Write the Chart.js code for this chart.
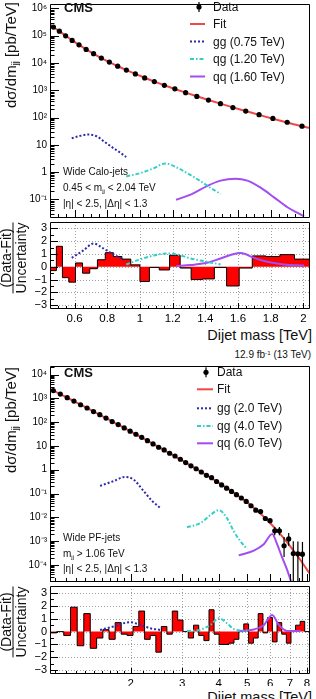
<!DOCTYPE html>
<html>
<head>
<meta charset="utf-8">
<script src="https://cdn.jsdelivr.net/npm/chart.js@4.4.1/dist/chart.umd.min.js"></script>
<style>
  html, body { margin: 0; padding: 0; background: #fff; }
  body { width: 316px; height: 699px; position: relative; overflow: hidden; font-family: "Liberation Sans", Arial, sans-serif; color: #111; }
  canvas { position: absolute; left: 0; }
  .t { position: absolute; white-space: nowrap; line-height: 1; transform: translateY(-50%); }
  .r { transform: translate(-100%, -50%); }
  .rot { position: absolute; white-space: nowrap; line-height: 1; transform: translate(-50%, -50%) rotate(-90deg); }
  .frac { text-align: center; }
  .den { border-top: 1px solid #111; }
  sub { font-size: 62%; vertical-align: -0.3em; line-height: 0; }
  sup { font-size: 62%; vertical-align: 0.55em; line-height: 0; }
</style>
</head>
<body>
<canvas id="topMain" width="316" height="222" style="top:0"></canvas>
<canvas id="topRatio" width="316" height="100" style="top:222px"></canvas>
<canvas id="botMain" width="316" height="224" style="top:362px"></canvas>
<canvas id="botRatio" width="316" height="100" style="top:586px"></canvas>

<div class="t" style="left:64px;top:7px;font-size:13px;font-weight:bold">CMS</div>
<div class="t" style="left:213px;top:7px;font-size:12px">Data</div>
<div class="t" style="left:213px;top:24px;font-size:12px">Fit</div>
<div class="t" style="left:213px;top:41.5px;font-size:12px">gg (0.75 TeV)</div>
<div class="t" style="left:213px;top:59px;font-size:12px">qg (1.20 TeV)</div>
<div class="t" style="left:213px;top:76.5px;font-size:12px">qq (1.60 TeV)</div>
<div class="t" style="left:63px;top:172px;font-size:10px">Wide Calo-jets</div>
<div class="t" style="left:63px;top:188px;font-size:10px">0.45 &lt; m<sub>jj</sub> &lt; 2.04 TeV</div>
<div class="t" style="left:63px;top:203.5px;font-size:10px">|η| &lt; 2.5, |Δη| &lt; 1.3</div>
<div class="rot" style="left:10px;top:55px;font-size:15px">dσ/dm<sub>jj</sub> [pb/TeV]</div>
<div class="rot" style="left:13px;top:258px;font-size:14px"><div class="frac"><div>(Data-Fit)</div><div class="den">Uncertainty</div></div></div>
<div class="t r" style="left:312px;top:335px;font-size:14.5px">Dijet mass [TeV]</div>

<div class="t r" style="left:311px;top:355px;font-size:10px">12.9 fb<sup>-1</sup> (13 TeV)</div>
<div class="t" style="left:64px;top:372px;font-size:13px;font-weight:bold">CMS</div>
<div class="t" style="left:217px;top:372.3px;font-size:12px">Data</div>
<div class="t" style="left:217px;top:389.3px;font-size:12px">Fit</div>
<div class="t" style="left:217px;top:408.3px;font-size:12px">gg (2.0 TeV)</div>
<div class="t" style="left:217px;top:426px;font-size:12px">qg (4.0 TeV)</div>
<div class="t" style="left:217px;top:443.3px;font-size:12px">qq (6.0 TeV)</div>
<div class="t" style="left:63px;top:537.5px;font-size:10px">Wide PF-jets</div>
<div class="t" style="left:63px;top:553.5px;font-size:10px">m<sub>jj</sub> &gt; 1.06 TeV</div>
<div class="t" style="left:63px;top:568.5px;font-size:10px">|η| &lt; 2.5, |Δη| &lt; 1.3</div>
<div class="rot" style="left:10px;top:420px;font-size:15px">dσ/dm<sub>jj</sub> [pb/TeV]</div>
<div class="rot" style="left:13px;top:622px;font-size:14px"><div class="frac"><div>(Data-Fit)</div><div class="den">Uncertainty</div></div></div>
<div class="t r" style="left:312px;top:697px;font-size:14.5px">Dijet mass [TeV]</div>

<script>
// ---- upper figure: wide calo-jets, 0.45 - 2.04 TeV ----
var topEdges = [0.453,0.489,0.526,0.565,0.606,0.649,0.693,0.740,0.788,0.838,0.890,0.944,1.000,1.058,1.118,1.181,1.246,1.313,1.383,1.455,1.530,1.607,1.687,1.770,1.856,1.945,2.037];
var topData = [2.07e5,1.47e5,9.9e4,6.7e4,4.64e4,3.15e4,2.19e4,1.52e4,1.08e4,7.65e3,5.53e3,3.99e3,2.85e3,2.09e3,1.52e3,1.13e3,821,595,437,324,232,174,128,92.9,67.5,48.6];
var topPull = [-0.3,1.6,-0.85,-1.2,0.3,-0.5,-0.15,0.55,1.1,0.8,0.6,0.15,-1.15,-0.05,-0.25,0.9,-0.1,-1.0,-0.95,-0.05,-1.5,-0.1,0.85,0.8,0.95,0.6];
var topFitMass = [0.45,0.471,0.5075,0.5455,0.5855,0.6275,0.671,0.7165,0.764,0.813,0.864,0.917,0.972,1.029,1.088,1.1495,1.2135,1.2795,1.348,1.419,1.4925,1.5685,1.647,1.7285,1.813,1.9005,1.991,2.04];
var topFitVal = [2.6e5,2.09e5,1.45e5,1.0e5,6.76e4,4.62e4,3.16e4,2.19e4,1.51e4,1.07e4,7.59e3,5.5e3,3.98e3,2.88e3,2.09e3,1.53e3,1.12e3,822,603,442,324,237,174,126,91.2,66.1,47.9,41];

var ggTopMass = [0.583,0.634,0.685,0.736,0.787,0.838,0.879,0.916];
var ggTopVal = [17.4,21.4,24,20.5,12.5,7.6,5.2,3.6];
var qgTopMass = [0.916,1.0,1.084,1.156,1.227,1.289,1.37,1.43,1.493];
var qgTopVal = [0.70,0.92,1.39,2.1,1.47,0.92,0.47,0.27,0.16];
var qqTopMass = [1.221,1.31,1.41,1.493,1.585,1.657,1.738,1.82,1.902,2.004];
var qqTopVal = [0.098,0.15,0.31,0.49,0.58,0.49,0.27,0.12,0.052,0.024];

var ggTopPullMass = [0.583,0.654,0.716,0.777,0.838,0.9];
var ggTopPull = [0.7,1.28,1.82,1.43,0.96,0.57];
var qgTopPullMass = [0.916,1.0,1.11,1.166,1.227,1.31,1.41,1.493];
var qgTopPull = [0.18,0.57,0.96,1.04,0.96,0.65,0.39,0.18];
var qqTopPullMass = [1.221,1.31,1.41,1.493,1.575,1.616,1.698,1.779,1.881,2.004];
var qqTopPull = [0.05,0.13,0.31,0.65,1.0,1.07,0.7,0.39,0.18,0.1];

// ---- lower figure: wide PF-jets, above 1.06 TeV ----
var botEdges = [1.058,1.118,1.181,1.246,1.313,1.383,1.455,1.530,1.607,1.687,1.770,1.856,1.945,2.037,2.132,2.231,2.332,2.438,2.546,2.659,2.775,2.895,3.019,3.147,3.279,3.416,3.558,3.704,3.854,4.010,4.171,4.337,4.509,4.686,4.869,5.058,5.253,5.455,5.663,5.877,6.099,6.328,6.564,6.808,7.060,7.320,7.589,7.866,8.152];
var botData = [2130,1515,1068,768,541,395,280,206,148,106,
  78.9,57.0,41.7,31.0,23.1,16.6,12.2,8.8,6.77,4.92,
  3.78,2.76,2.00,1.46,1.10,0.802,0.584,0.465,0.320,0.229,
  0.167,0.122,0.0895,0.0646,0.0466,0.0305,0.0200,0.0174,0.0089,0.0072,
  0.0027,0.0027,6.35e-4,1.23e-3,3.0e-4,2.9e-4,2.8e-4,null];
var botErrLo = [0,0,0,0,0,0,0,0,0,0, 0,0,0,0,0,0,0,0,0,0, 0,0,0,0,0,0,0,0,0,0, 0,0,0,0,0,0,
  0.0028,0.0026,0.0018,0.0016,0.00095,0.00095,4.2e-4,5.9e-4,3.0e-4,2.9e-4,2.8e-4,0];
var botErrHi = [0,0,0,0,0,0,0,0,0,0, 0,0,0,0,0,0,0,0,0,0, 0,0,0,0,0,0,0,0,0,0, 0,0,0,0,0,0,
  0.0028,0.0026,0.0018,0.0016,0.0012,0.0012,8.4e-4,9.7e-4,6.9e-4,6.7e-4,6.4e-4,0];
var botPull = [-0.1,0.0,-0.3,1.9,-1.1,1.4,-1.3,-0.5,0.15,-0.6,0.7,-0.2,-0.3,0.4,1.6,-0.6,-0.3,-1.6,0.4,-0.2,1.6,0.9,0.0,-0.5,0.5,-0.3,-0.7,1.7,-0.2,-1.0,-1.0,-0.9,-0.6,0.0,0.6,-0.9,-0.5,1.4,-0.1,1.1,-0.8,0.7,-0.2,-0.9,0.0,0.5,0.8,0.0];
var botFitMass = [1.058,1.088,1.1495,1.2135,1.2795,1.348,1.419,1.4925,1.5685,1.647,1.7285,1.813,1.9005,1.991,2.0845,2.1815,2.2815,2.385,2.492,2.6025,2.717,2.835,2.957,3.083,3.213,3.3475,3.487,3.631,3.779,3.932,4.0905,4.254,4.423,4.5975,4.7775,4.9635,5.1555,5.354,5.559,5.77,5.988,6.2135,6.446,6.686,6.934,7.19,7.4545,7.7275,8.009,8.152];
var botFitVal = [2570,2140,1510,1070,760,545,391,282,204,148,107,
  78.3,57.3,41.9,30.8,22.6,16.7,12.3,9.06,6.70,4.94,
  3.66,2.70,2.00,1.48,1.09,0.807,0.594,0.439,0.323,0.237,
  0.173,0.126,0.0912,0.0646,0.0457,0.0316,0.0214,0.0141,0.00912,0.00575,
  0.00355,0.00214,0.00126,7.24e-4,4.07e-4,2.24e-4,1.20e-4,6.3e-5,4.5e-5];

var ggBotMass = [1.572,1.746,1.915,2.045,2.212,2.363,2.523];
var ggBotVal = [0.21,0.33,0.50,0.39,0.13,0.05,0.025];
var qgBotMass = [3.114,3.46,3.745,4.0,4.27,4.5,4.74,5.0];
var qgBotVal = [3.8e-3,5.7e-3,0.0124,0.02,9.1e-3,2.6e-3,1.0e-3,4.6e-4];
var qqBotMass = [4.68,5.27,5.70,6.09,6.33,6.58,6.85,7.12];
var qqBotVal = [2.5e-4,4.0e-4,7.4e-4,2.0e-3,7.4e-4,2.1e-4,6.2e-5,1.5e-5];

var ggBotPullMass = [1.572,1.746,1.992,2.156,2.333,2.523];
var ggBotPull = [0.13,0.4,0.73,0.52,0.26,0.13];
var qgBotPullMass = [3.114,3.46,3.745,4.0,4.27,4.5,5.0];
var qgBotPull = [0.05,0.15,0.52,1.04,0.65,0.2,0.05];
var qqBotPullMass = [4.68,5.27,5.70,6.09,6.42,6.85,7.6];
var qqBotPull = [0.05,0.17,0.5,1.3,0.5,0.05,0.05];

// ---- axis ticks ----
var topYTicks = [0.1,1,10,100,1e3,1e4,1e5,1e6];
var topYLabels = ['10\u207B\u00B9','1','10','10\u00B2','10\u00B3','10\u2074','10\u2075','10\u2076'];
var botYTicks = [1e-4,1e-3,1e-2,0.1,1,10,100,1e3,1e4];
var botYLabels = ['10\u207B\u2074','10\u207B\u00B3','10\u207B\u00B2','10\u207B\u00B9','1','10','10\u00B2','10\u00B3','10\u2074'];
var pullTicks = [-3,-2,-1,0,1,2,3];
var pullLabels = ['\u22123','\u22122','\u22121','0','1','2','3'];
var topXTicks = [0.6,0.8,1.0,1.2,1.4,1.6,1.8,2.0];
var topXLabels = ['0.6','0.8','1','1.2','1.4','1.6','1.8','2'];
var botXTicks = [2,3,4,5,6,7,8];
var botXLabels = ['2','3','4','5','6','7','8'];

var topXMinor = [];
for (var m = 0.5; m < 2.04; m += 0.05) topXMinor.push(Math.round(m * 100) / 100);
var botXMinor = [1.1,1.2,1.3,1.4,1.5,1.6,1.7,1.8,1.9,2.2,2.4,2.6,2.8,3.2,3.4,3.6,3.8,4.5,5.5,6.5,7.5];
function logMinor(lo, hi) {
  var out = [];
  for (var e = lo; e <= hi; e++) for (var k = 2; k <= 9; k++) out.push(k * Math.pow(10, e));
  return out;
}
var pullMinor = [-2.5,-1.5,-0.5,0.5,1.5,2.5];

var red = '#f04848', blue = '#2b2bab', cyan = '#33cfc6', violet = '#a24cf2';

Chart.defaults.font.family = '"Liberation Sans", Arial, sans-serif';
Chart.defaults.color = '#000';

function xy(xs, ys) { return xs.map(function (v, i) { return { x: v, y: ys[i] }; }); }
function centers(edges) { return edges.slice(1).map(function (e, i) { return (e + edges[i]) / 2; }); }
function histo(edges, vals) { return edges.map(function (e, i) { return { x: e, y: vals[Math.min(i, vals.length - 1)] }; }); }
function forceTicks(vals) { return function (s) { s.ticks = vals.map(function (v) { return { value: v }; }); }; }
function fixY(s) { s.width = 50; s.paddingTop = 0; s.paddingBottom = 0; }
function fixX(h) { return function (s) { s.height = h; s.paddingLeft = 0; s.paddingRight = 0; }; }

function curve(xs, ys, color, dash) {
  return { data: xy(xs, ys), borderColor: color, borderWidth: 2, borderDash: dash || [], pointRadius: 0,
           fill: false, cubicInterpolationMode: 'monotone' };
}

// frame, inner ticks and dotted grid in the ROOT manner
var rootFrame = {
  id: 'rootFrame',
  beforeDatasetsDraw: function (chart, args, o) {
    if (!o.grid) return;
    var ctx = chart.ctx, a = chart.chartArea, x = chart.scales.x, y = chart.scales.y;
    ctx.save();
    ctx.strokeStyle = '#a0a0a0'; ctx.lineWidth = 1; ctx.setLineDash([1, 2]);
    ctx.beginPath();
    o.xMajor.forEach(function (v) { var p = Math.round(x.getPixelForValue(v)) + 0.5; ctx.moveTo(p, a.top); ctx.lineTo(p, a.bottom); });
    o.yMajor.forEach(function (v) { var p = Math.round(y.getPixelForValue(v)) + 0.5; ctx.moveTo(a.left, p); ctx.lineTo(a.right, p); });
    ctx.stroke();
    ctx.restore();
  },
  afterDatasetsDraw: function (chart, args, o) {
    var ctx = chart.ctx, a = chart.chartArea, x = chart.scales.x, y = chart.scales.y;
    ctx.save();
    ctx.strokeStyle = '#000'; ctx.lineWidth = 1;
    ctx.beginPath();
    function tx(vals, len) { vals.forEach(function (v) { var p = Math.round(x.getPixelForValue(v)) + 0.5; ctx.moveTo(p, a.bottom); ctx.lineTo(p, a.bottom - len); }); }
    function ty(vals, len) { vals.forEach(function (v) { var p = y.getPixelForValue(v); if (p < a.top || p > a.bottom) return; p = Math.round(p) + 0.5; ctx.moveTo(a.left, p); ctx.lineTo(a.left + len, p); }); }
    tx(o.xMajor, o.xLen[0]); tx(o.xMinor, o.xLen[1]);
    ty(o.yMajor, o.yLen[0]); ty(o.yMinor, o.yLen[1]);
    ctx.rect(Math.round(a.left) + 0.5, Math.round(a.top) + 0.5, Math.round(a.right - a.left) - 1, Math.round(a.bottom - a.top) - 1);
    ctx.stroke();
    ctx.restore();
  }
};

// vertical error bars for datasets carrying errLo / errHi
var errorBars = {
  id: 'errorBars',
  afterDatasetsDraw: function (chart) {
    var ctx = chart.ctx, a = chart.chartArea, x = chart.scales.x, y = chart.scales.y;
    ctx.save();
    ctx.beginPath(); ctx.rect(a.left, a.top, a.right - a.left, a.bottom - a.top); ctx.clip();
    ctx.strokeStyle = '#000'; ctx.lineWidth = 1.2;
    chart.data.datasets.forEach(function (ds) {
      if (!ds.errLo) return;
      ds.data.forEach(function (pt, j) {
        if (pt.y == null || (!ds.errLo[j] && !ds.errHi[j])) return;
        var px = x.getPixelForValue(pt.x);
        var lo = pt.y - ds.errLo[j];
        var yLo = lo > 0 ? y.getPixelForValue(lo) : a.bottom;
        var yHi = y.getPixelForValue(pt.y + ds.errHi[j]);
        ctx.beginPath(); ctx.moveTo(px, yLo); ctx.lineTo(px, yHi); ctx.stroke();
      });
    });
    ctx.restore();
  }
};

// legend symbols next to the html legend text
var legendSamples = {
  id: 'legendSamples',
  afterDraw: function (chart, args, o) {
    if (!o.rows) return;
    var ctx = chart.ctx;
    ctx.save();
    o.rows.forEach(function (r) {
      if (r.point) {
        ctx.fillStyle = '#000';
        ctx.fillRect(o.xm - 0.6, r.y - 5, 1.2, 10);
        ctx.beginPath(); ctx.arc(o.xm, r.y, 2.6, 0, 2 * Math.PI); ctx.fill();
      } else {
        ctx.strokeStyle = r.color; ctx.lineWidth = 2; ctx.setLineDash(r.dash || []);
        ctx.beginPath(); ctx.moveTo(o.x0, r.y); ctx.lineTo(o.x1, r.y); ctx.stroke();
      }
    });
    ctx.restore();
  }
};

function mainChart(id, o) {
  return new Chart(document.getElementById(id), {
    type: 'line',
    data: { datasets: o.datasets },
    options: {
      responsive: false, animation: false, events: [], devicePixelRatio: 1,
      layout: { padding: { top: o.padTop, right: 6, bottom: 0, left: 0 } },
      plugins: { legend: { display: false }, tooltip: { enabled: false },
                 rootFrame: o.frame, legendSamples: o.legend },
      scales: {
        x: { type: o.xType, min: o.xMin, max: o.xMax, display: false },
        y: { type: 'logarithmic', min: o.yMin, max: o.yMax,
             afterBuildTicks: forceTicks(o.yTicks), afterFit: fixY,
             grid: { display: false, drawTicks: false }, border: { display: false },
             ticks: { autoSkip: false, padding: 3, font: { size: 10 },
                      callback: function (v, i) { return o.yLabels[i]; } } }
      }
    },
    plugins: [rootFrame, errorBars, legendSamples]
  });
}

function pullChart(id, o) {
  return new Chart(document.getElementById(id), {
    type: 'line',
    data: { datasets: o.datasets },
    options: {
      responsive: false, animation: false, events: [], devicePixelRatio: 1,
      layout: { padding: { top: 0, right: 6, bottom: 0, left: 0 } },
      plugins: { legend: { display: false }, tooltip: { enabled: false }, rootFrame: o.frame },
      scales: {
        x: { type: o.xType, min: o.xMin, max: o.xMax,
             afterBuildTicks: forceTicks(o.xTicks), afterFit: fixX(o.xHeight),
             grid: { display: false, drawTicks: false }, border: { display: false },
             ticks: { autoSkip: false, maxRotation: 0, padding: 3, font: { size: 11.5 },
                      callback: function (v, i) { return o.xLabels[i]; } } },
        y: { type: 'linear', min: o.yMin, max: o.yMax,
             afterBuildTicks: forceTicks(pullTicks), afterFit: fixY,
             grid: { display: false, drawTicks: false }, border: { display: false },
             ticks: { autoSkip: false, padding: 3, font: { size: 11 },
                      callback: function (v, i) { return pullLabels[i]; } } }
      }
    },
    plugins: [rootFrame]
  });
}

function pointSet(xs, ys, lo, hi) {
  return { data: xy(xs, ys), showLine: false, pointRadius: 2.6, pointBackgroundColor: '#000',
           pointBorderWidth: 0, errLo: lo, errHi: hi };
}
function histSet(edges, vals) {
  return { data: histo(edges, vals), stepped: 'before', fill: 'origin', backgroundColor: '#ff0000',
           borderColor: '#000', borderWidth: 1, pointRadius: 0 };
}

mainChart('topMain', {
  xType: 'linear', xMin: 0.45, xMax: 2.04, yMin: 0.021, yMax: 1.45e6, padTop: 0,
  yTicks: topYTicks, yLabels: topYLabels,
  datasets: [
    pointSet(centers(topEdges), topData, null, null),
    curve(topFitMass, topFitVal, red),
    curve(ggTopMass, ggTopVal, blue, [2, 2]),
    curve(qgTopMass, qgTopVal, cyan, [4, 2, 1.5, 2]),
    curve(qqTopMass, qqTopVal, violet)
  ],
  frame: { xMajor: topXTicks, xMinor: topXMinor, xLen: [8, 4], yMajor: topYTicks, yMinor: logMinor(-2, 6), yLen: [9, 4.5] },
  legend: { x0: 190, x1: 205, xm: 199, rows: [
    { point: true, y: 7 }, { color: red, y: 24 }, { color: blue, dash: [2, 2], y: 41.5 },
    { color: cyan, dash: [4, 2, 1.5, 2], y: 59 }, { color: violet, y: 76.5 } ] }
});

pullChart('topRatio', {
  xType: 'linear', xMin: 0.45, xMax: 2.04, yMin: -3.3, yMax: 3.5, xHeight: 13,
  xTicks: topXTicks, xLabels: topXLabels,
  datasets: [
    curve(ggTopPullMass, ggTopPull, blue, [2, 2]),
    curve(qgTopPullMass, qgTopPull, cyan, [4, 2, 1.5, 2]),
    curve(qqTopPullMass, qqTopPull, violet),
    histSet(topEdges, topPull)
  ],
  frame: { grid: true, xMajor: topXTicks, xMinor: topXMinor, xLen: [6, 3], yMajor: pullTicks, yMinor: pullMinor, yLen: [8, 4] }
});

mainChart('botMain', {
  xType: 'logarithmic', xMin: 1.06, xMax: 8.2, yMin: 1.9e-5, yMax: 2.3e4, padTop: 1,
  yTicks: botYTicks, yLabels: botYLabels,
  datasets: [
    pointSet(centers(botEdges), botData, botErrLo, botErrHi),
    curve(botFitMass, botFitVal, red),
    curve(ggBotMass, ggBotVal, blue, [2, 2]),
    curve(qgBotMass, qgBotVal, cyan, [4, 2, 1.5, 2]),
    curve(qqBotMass, qqBotVal, violet)
  ],
  frame: { xMajor: botXTicks, xMinor: botXMinor, xLen: [8, 4], yMajor: botYTicks, yMinor: logMinor(-5, 4), yLen: [9, 4.5] },
  legend: { x0: 197, x1: 213, xm: 206, rows: [
    { point: true, y: 10.3 }, { color: red, y: 27.3 }, { color: blue, dash: [2, 2], y: 46.3 },
    { color: cyan, dash: [4, 2, 1.5, 2], y: 64 }, { color: violet, y: 81.3 } ] }
});

pullChart('botRatio', {
  xType: 'logarithmic', xMin: 1.06, xMax: 8.2, yMin: -3.3, yMax: 3.55, xHeight: 12,
  xTicks: botXTicks, xLabels: botXLabels,
  datasets: [
    curve(ggBotPullMass, ggBotPull, blue, [2, 2]),
    curve(qgBotPullMass, qgBotPull, cyan, [4, 2, 1.5, 2]),
    curve(qqBotPullMass, qqBotPull, violet),
    histSet(botEdges, botPull)
  ],
  frame: { grid: true, xMajor: botXTicks, xMinor: botXMinor, xLen: [6, 3], yMajor: pullTicks, yMinor: pullMinor, yLen: [8, 4] }
});
</script>
</body>
</html>
